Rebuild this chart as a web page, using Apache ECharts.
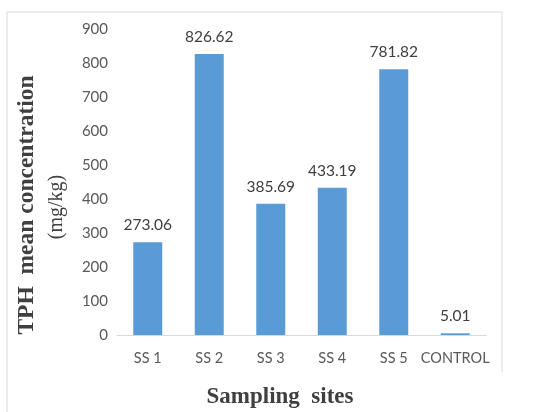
<!DOCTYPE html>
<html><head><meta charset="utf-8">
<script src="https://cdn.jsdelivr.net/npm/echarts@6/dist/echarts.min.js"></script>
<style>html,body{margin:0;padding:0;background:#fff}#c{width:539px;height:412px}</style>
</head><body><div id="c"></div>
<script>
const categories = ['SS 1','SS 2','SS 3','SS 4','SS 5','CONTROL'];
const values = [273.06, 826.62, 385.69, 433.19, 781.82, 5.01];
const yTicks = [0,100,200,300,400,500,600,700,800,900];
const yTitle1 = 'TPH  mean concentration';
const yTitle2 = '(mg/kg)';
const xTitle = 'Sampling  sites';

const chart = echarts.init(document.getElementById('c'));
chart.setOption({
  animation:false,
  backgroundColor:'#fff',
  graphic:[
    {type:'polyline', shape:{points:[[7,412],[7,12],[502,12],[502,372]]}, style:{stroke:'#d9d9d9', fill:null, lineWidth:1}, silent:true},
    {type:'text', x:27, y:205, rotation:Math.PI/2, style:{text:yTitle1, fill:'#404040', font:'bold 23.5px "Liberation Serif"', textAlign:'center', textVerticalAlign:'middle'}, silent:true},
    {type:'text', x:57, y:207, rotation:Math.PI/2, style:{text:yTitle2, fill:'#404040', font:'20px "Liberation Serif"', textAlign:'center', textVerticalAlign:'middle'}, silent:true},
    {type:'text', x:280, y:397, style:{text:xTitle, fill:'#404040', font:'bold 23px "Liberation Serif"', textAlign:'center', textVerticalAlign:'middle'}, silent:true}
  ],
  grid:{left:117, right:53, top:29, bottom:77, containLabel:false, outerBoundsMode:'none'},
  xAxis:{
    type:'category', data:categories,
    axisLine:{lineStyle:{color:'#d9d9d9', width:1}},
    axisTick:{show:false},
    axisLabel:{color:'#595959', fontSize:14.5, fontFamily:'Lato', margin:16, interval:0}
  },
  yAxis:{
    type:'value', min:yTicks[0], max:yTicks[yTicks.length-1], interval:100,
    axisLine:{show:false}, axisTick:{show:false}, splitLine:{show:false},
    axisLabel:{color:'#595959', fontSize:15, fontFamily:'Lato', margin:9}
  },
  series:[{
    type:'bar', data:values, barWidth:29,
    itemStyle:{color:'#5B9BD5'},
    label:{show:true, position:'top', distance:9, color:'#404040', fontSize:15.5, fontFamily:'Lato',
      formatter:p=>p.value.toFixed(2)}
  }]
});
</script></body></html>
